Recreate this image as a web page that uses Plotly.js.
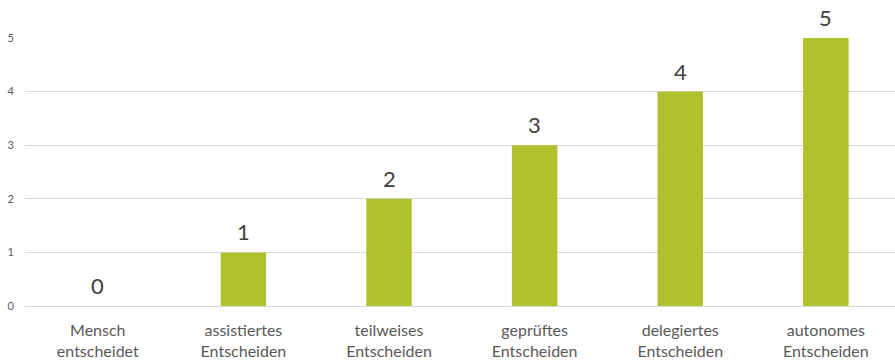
<!DOCTYPE html>
<html>
<head>
<meta charset="utf-8">
<script src="https://cdn.plot.ly/plotly-3.0.1.min.js"></script>
<style>html,body{margin:0;padding:0;background:#fff;}#chart{width:895px;height:361px;}</style>
</head>
<body>
<div id="chart"></div>
<script>
const categories = ["Mensch<br>entscheidet", "assistiertes<br>Entscheiden", "teilweises<br>Entscheiden", "geprüftes<br>Entscheiden", "delegiertes<br>Entscheiden", "autonomes<br>Entscheiden"];
const values = [0, 1, 2, 3, 4, 5];
const yTicks = [0, 1, 2, 3, 4, 5];

const idx = categories.map((_, i) => i);
const trace = {
  type: "bar",
  x: idx,
  y: values,
  width: 0.3125,
  marker: {color: "#AFC22E"},
  hoverinfo: "none"
};
const annotations = values.map((v, i) => ({
  x: i, y: v, xref: "x", yref: "y",
  text: String(v), showarrow: false,
  yanchor: "bottom", yshift: 5,
  font: {family: "Lato, 'Open Sans', sans-serif", size: 22, color: "#404040"}
}));
const layout = {
  width: 895, height: 361,
  margin: {l: 25, r: 0, t: 38, b: 55},
  paper_bgcolor: "#fff", plot_bgcolor: "#fff",
  showlegend: false,
  font: {family: "Lato, 'Open Sans', sans-serif", color: "#595959"},
  xaxis: {
    range: [-0.5, 5.475],
    tickmode: "array", tickvals: idx, ticktext: categories,
    showgrid: false, zeroline: false, showline: false, ticks: "",
    tickfont: {size: 16, color: "#595959"},
    ticklabelstandoff: 13
  },
  yaxis: {
    range: [0, 5],
    tickmode: "array", tickvals: yTicks, ticktext: yTicks.map(String),
    showgrid: true, gridcolor: "#d9d9d9", gridwidth: 1,
    zeroline: true, zerolinecolor: "#d9d9d9", zerolinewidth: 1,
    showline: false, ticks: "",
    tickfont: {size: 11, color: "#595959"},
    ticklabelstandoff: 10
  },
  annotations: annotations
};
Plotly.newPlot("chart", [trace], layout, {displayModeBar: false, staticPlot: true});
</script>
</body>
</html>
